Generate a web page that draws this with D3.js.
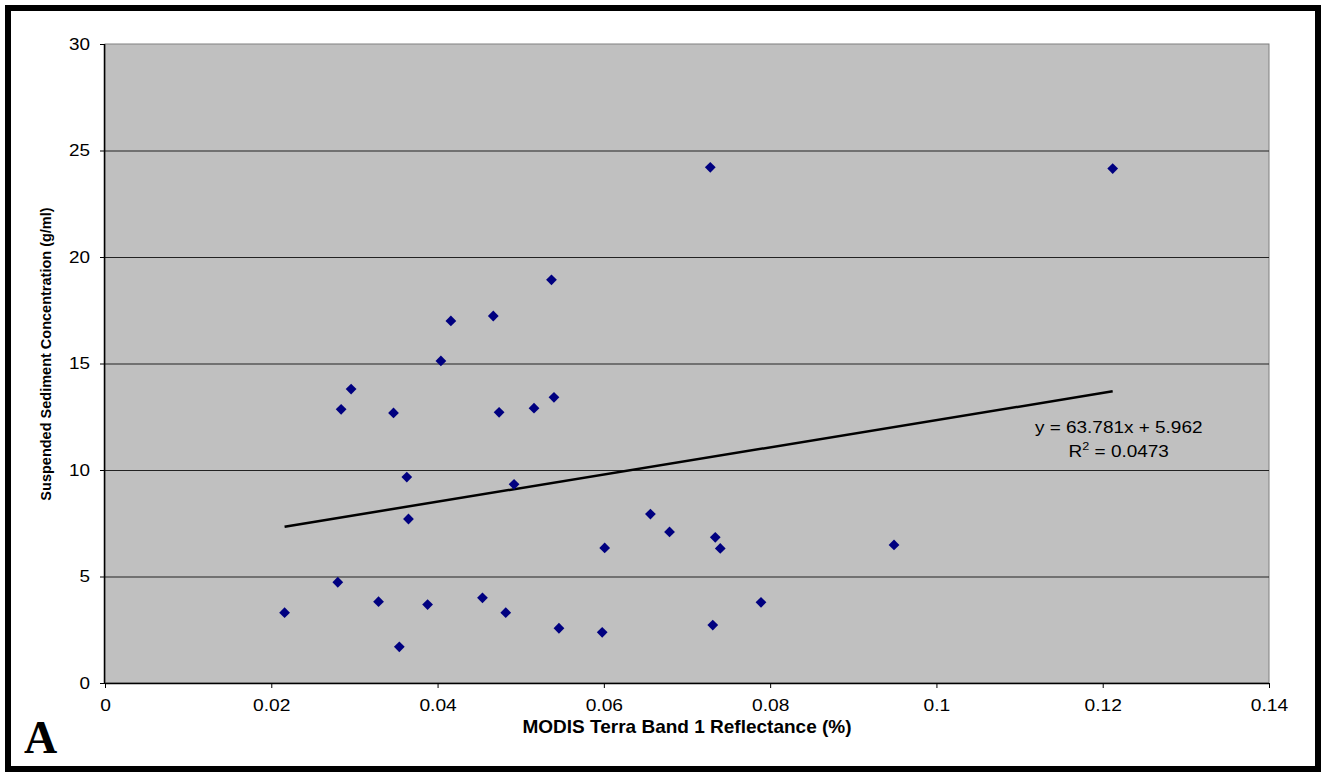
<!DOCTYPE html>
<html>
<head>
<meta charset="utf-8">
<script src="https://cdn.jsdelivr.net/npm/d3@7"></script>
<style>
  html, body { margin: 0; padding: 0; background: #fff; }
  svg { display: block; }
</style>
</head>
<body>
<svg id="chart" width="1322" height="772"></svg>
<script>
// ---- data ----
const reflectance = [0.0216, 0.0280, 0.0284, 0.0296, 0.0329, 0.0347, 0.0354, 0.0363, 0.0365, 0.0388,
  0.0404, 0.0416, 0.0454, 0.0467, 0.0474, 0.0482, 0.0492, 0.0516, 0.0537, 0.0540, 0.0546,
  0.0598, 0.0601, 0.0656, 0.0679, 0.0728, 0.0731, 0.0734, 0.0740, 0.0789, 0.0949, 0.1212];
const sediment = [3.30, 4.73, 12.85, 13.80, 3.82, 12.68, 1.70, 9.67, 7.70, 3.68,
  15.12, 17.00, 4.00, 17.23, 12.71, 3.30, 9.33, 12.90, 18.93, 13.41, 2.57,
  2.38, 6.34, 7.93, 7.09, 24.21, 2.72, 6.84, 6.32, 3.79, 6.48, 24.15];
const xTicks = [0, 0.02, 0.04, 0.06, 0.08, 0.1, 0.12, 0.14];
const xTickLabels = ["0", "0.02", "0.04", "0.06", "0.08", "0.1", "0.12", "0.14"];
const yTicks = [0, 5, 10, 15, 20, 25, 30];
const trendSlope = 63.781;
const trendIntercept = 5.962;
const equationText = "y = 63.781x + 5.962";
const r2Value = "0.0473";
const xTitle = "MODIS Terra Band 1 Reflectance (%)";
const yTitle = "Suspended Sediment Concentration (g/ml)";
const panelLabel = "A";

// ---- layout ----
const svg = d3.select("#chart");
const plot = { left: 105, top: 44, right: 1269, bottom: 683 };
const x = d3.scaleLinear().domain([0, 0.14]).range([plot.left, plot.right]);
const y = d3.scaleLinear().domain([0, 30]).range([plot.bottom, plot.top]);
const font = "Arial, 'Liberation Sans', Helvetica, sans-serif";

// outer frame
svg.append("rect").attr("x", 8).attr("y", 8).attr("width", 1310).attr("height", 761)
  .attr("fill", "#fff").attr("stroke", "#000").attr("stroke-width", 6);

// plot area
svg.append("rect").attr("x", plot.left).attr("y", plot.top)
  .attr("width", plot.right - plot.left).attr("height", plot.bottom - plot.top)
  .attr("fill", "#c0c0c0").attr("stroke", "#808080").attr("stroke-width", 1);

// gridlines
svg.append("g").selectAll("line").data(yTicks.filter(d => d > 0 && d < 30)).join("line")
  .attr("x1", plot.left).attr("x2", plot.right)
  .attr("y1", d => y(d) + 0.5).attr("y2", d => y(d) + 0.5)
  .attr("stroke", "#222").attr("stroke-width", 1);

// axes
const yAxis = d3.axisLeft(y).tickValues(yTicks).tickSize(5).tickFormat(d3.format("d"));
const gy = svg.append("g").attr("transform", `translate(${plot.left},0)`).call(yAxis);
const xAxis = d3.axisBottom(x).tickValues(xTicks).tickSize(5).tickPadding(12)
  .tickFormat((d, i) => xTickLabels[i]);
const gx = svg.append("g").attr("transform", `translate(0,${plot.bottom})`).call(xAxis);
[gx, gy].forEach(g => {
  g.select(".domain").attr("stroke", "#000").attr("stroke-width", 1.5);
  g.selectAll(".tick line").attr("stroke", "#000").attr("stroke-width", 1);
  g.selectAll(".tick text").attr("font-family", font).attr("font-size", 16).attr("fill", "#000");
});
gx.selectAll(".tick text").attr("transform", "scale(1.2,1)");
gy.selectAll(".tick text").attr("x", 0).attr("transform", "translate(-15,0) scale(1.18,1)");
gx.select(".domain").attr("d", `M${plot.left},0.5H${plot.right}`);
gy.select(".domain").attr("d", `M-0.5,${plot.top}V${plot.bottom}`);

// trendline
const xMin = d3.min(reflectance), xMax = d3.max(reflectance);
svg.append("line")
  .attr("x1", x(xMin)).attr("y1", y(trendSlope * xMin + trendIntercept))
  .attr("x2", x(xMax)).attr("y2", y(trendSlope * xMax + trendIntercept))
  .attr("stroke", "#000").attr("stroke-width", 2.5);

// points
const diamond = d3.symbol().type(d3.symbolSquare).size(58);
svg.append("g").selectAll("path").data(reflectance.map((v, i) => [v, sediment[i]])).join("path")
  .attr("d", diamond)
  .attr("transform", d => `translate(${x(d[0])},${y(d[1])}) rotate(45)`)
  .attr("fill", "#000080");

// equation
const eq = svg.append("g").attr("transform", "translate(1118.7,0) scale(1.15,1)")
  .attr("font-family", font).attr("font-size", 16.5).attr("fill", "#000")
  .attr("text-anchor", "middle");
eq.append("text").attr("x", 0).attr("y", 433).text(equationText);
const r2 = eq.append("text").attr("x", 0).attr("y", 457);
r2.append("tspan").text("R");
r2.append("tspan").attr("font-size", 11).attr("dy", -7).text("2");
r2.append("tspan").attr("dy", 7).text(" = " + r2Value);

// axis titles
svg.append("text").attr("x", (plot.left + plot.right) / 2).attr("y", 733)
  .attr("text-anchor", "middle").attr("font-family", font).attr("font-weight", "bold")
  .attr("font-size", 19).text(xTitle);
svg.append("text").attr("transform", `translate(51,354) rotate(-90)`)
  .attr("text-anchor", "middle").attr("font-family", font).attr("font-weight", "bold")
  .attr("font-size", 14.5).text(yTitle);

// panel label
svg.append("text").attr("x", 24).attr("y", 753)
  .attr("font-family", "'Times New Roman', 'Liberation Serif', serif").attr("font-weight", "bold")
  .attr("font-size", 46).text(panelLabel);
</script>
</body>
</html>
